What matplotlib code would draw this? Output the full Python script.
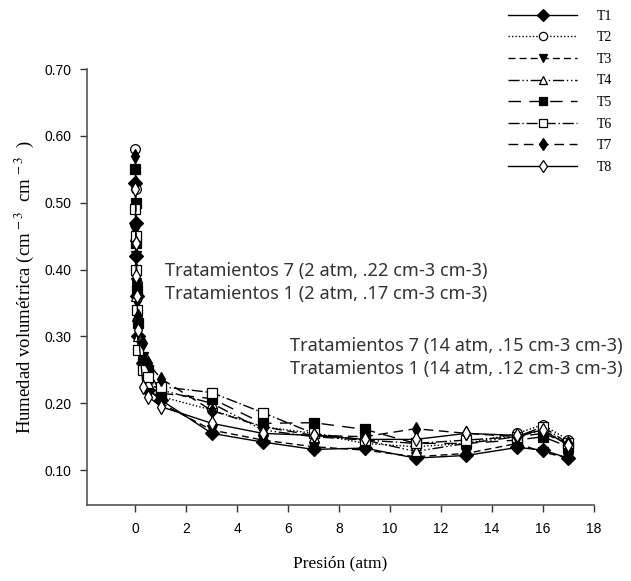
import matplotlib.pyplot as plt

plt.rcParams['mathtext.fontset'] = 'stix'

# presion (atm) y humedad volumetrica por tratamiento
presion = [0, 0.01, 0.03, 0.06, 0.1, 0.3, 0.5, 1, 3, 5, 7, 9, 11, 13, 15, 16, 17]

T1 = [0.53, 0.47, 0.42, 0.36, 0.30, 0.26, 0.22, 0.205, 0.155, 0.142, 0.131, 0.133, 0.118, 0.122, 0.134, 0.130, 0.118]
T2 = [0.58, 0.52, 0.45, 0.38, 0.32, 0.27, 0.24, 0.210, 0.190, 0.165, 0.155, 0.140, 0.135, 0.140, 0.155, 0.168, 0.145]
T3 = [0.46, 0.42, 0.38, 0.35, 0.31, 0.27, 0.23, 0.200, 0.160, 0.145, 0.135, 0.130, 0.120, 0.125, 0.140, 0.127, 0.118]
T4 = [0.45, 0.40, 0.36, 0.33, 0.30, 0.26, 0.23, 0.220, 0.200, 0.160, 0.150, 0.145, 0.128, 0.140, 0.150, 0.160, 0.140]
T5 = [0.55, 0.50, 0.44, 0.37, 0.32, 0.26, 0.25, 0.215, 0.207, 0.170, 0.171, 0.161, 0.140, 0.140, 0.145, 0.150, 0.135]
T6 = [0.49, 0.45, 0.40, 0.34, 0.28, 0.25, 0.24, 0.225, 0.216, 0.186, 0.155, 0.145, 0.140, 0.145, 0.150, 0.165, 0.140]
T7 = [0.57, 0.53, 0.44, 0.38, 0.33, 0.29, 0.26, 0.237, 0.189, 0.165, 0.152, 0.150, 0.162, 0.155, 0.150, 0.155, 0.140]
T8 = [0.52, 0.44, 0.39, 0.36, 0.31, 0.225, 0.21, 0.195, 0.170, 0.155, 0.152, 0.146, 0.146, 0.155, 0.152, 0.160, 0.137]

series = [T1, T2, T3, T4, T5, T6, T7, T8]
nombres = ['T1', 'T2', 'T3', 'T4', 'T5', 'T6', 'T7', 'T8']

# estilo de cada tratamiento: marcador, relleno, tipo de linea
marcadores = ['D', 'o', 'v', '^', 's', 's', 'd', 'd']
rellenos = ['black', 'white', 'black', 'white', 'black', 'white', 'black', 'white']
lineas = ['-', (0, (1, 1.5)), (0, (5, 3)), (0, (8, 2, 1, 2, 1, 2)),
          (0, (9, 6)), (0, (8, 2, 1, 2)), (0, (7, 4)), '-']

fig = plt.figure(figsize=(6.31, 5.81), dpi=100)
ax = fig.add_axes([0.138, 0.131, 0.803, 0.750])

for i in range(len(series)):
    ax.plot(presion, series[i], linestyle=lineas[i], color='black', linewidth=1.0,
            marker=marcadores[i], markersize=7, markerfacecolor=rellenos[i],
            markeredgecolor='black', markeredgewidth=0.9, label=nombres[i])

ax.set_xlim(-1.9, 18)
ax.set_ylim(0.048, 0.70)
ax.set_xticks(range(0, 19, 2))
ax.set_yticks([0.10, 0.20, 0.30, 0.40, 0.50, 0.60, 0.70])
ax.set_yticklabels(['0.10', '0.20', '0.30', '0.40', '0.50', '0.60', '0.70'])
ax.spines['top'].set_visible(False)
ax.spines['right'].set_visible(False)
for s in ['left', 'bottom']:
    ax.spines[s].set_color('#555555')
    ax.spines[s].set_linewidth(1.2)
ax.tick_params(axis='both', direction='out', length=5, width=1, color='#333333',
               labelsize=10, labelcolor='black')
ax.tick_params(axis='x', pad=7)
ax.tick_params(axis='y', pad=6)
for t in ax.get_xticklabels() + ax.get_yticklabels():
    t.set_family('Liberation Sans')

ax.set_xlabel('Presión (atm)', family='Liberation Serif', fontsize=12.5, labelpad=14)
ax.set_ylabel('Humedad volumétrica (cm$^{\\,-3}$  cm$^{\\,-3}$  )', family='Liberation Serif',
              fontsize=13.5, labelpad=6)

# anotaciones
txt = dict(family='Noto Sans', fontsize=13.1, color='#333333', clip_on=False)
ax.text(1.15, 0.398, 'Tratamientos 7 (2 atm, .22 cm-3 cm-3)', va='center', **txt)
ax.text(1.15, 0.363, 'Tratamientos 1 (2 atm, .17 cm-3 cm-3)', va='center', **txt)
ax.text(6.05, 0.286, 'Tratamientos 7 (14 atm, .15 cm-3 cm-3)', va='center', **txt)
ax.text(6.05, 0.252, 'Tratamientos 1 (14 atm, .12 cm-3 cm-3)', va='center', **txt)

leg = fig.legend(loc='upper right', bbox_to_anchor=(0.99, 1.005), frameon=False,
                 handlelength=5.0, handletextpad=1.4, labelspacing=0.62,
                 markerscale=0.85,
                 prop={'family': 'Liberation Serif', 'size': 10})

fig.savefig('out.png', dpi=100)
